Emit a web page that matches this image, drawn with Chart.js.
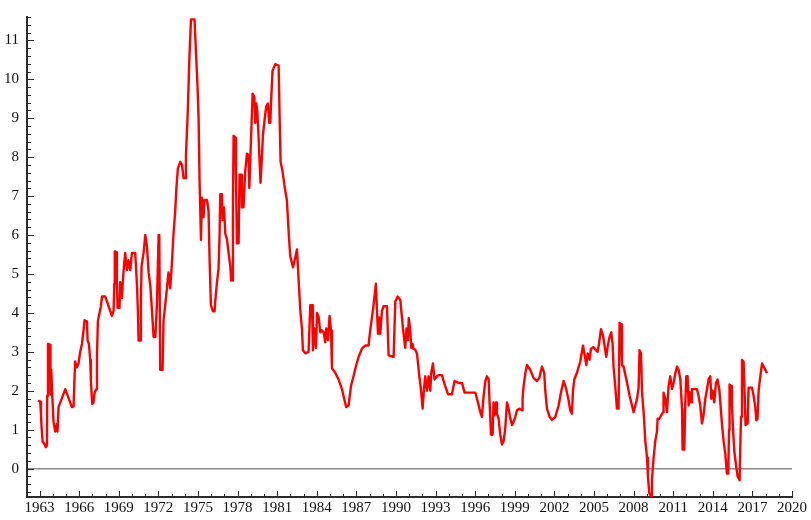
<!DOCTYPE html>
<html>
<head>
<meta charset="utf-8">
<script src="https://cdn.jsdelivr.net/npm/chart.js@4.4.1/dist/chart.umd.min.js"></script>
<style>
html, body { margin: 0; padding: 0; background: #fff; }
#wrap { width: 811px; height: 520px; }
</style>
</head>
<body>
<div id="wrap"><canvas id="chart"></canvas></div>
<script>
// decimal year of each reading
var years = [
    1962.88, 1963.05, 1963.11, 1963.15, 1963.23, 1963.38, 1963.48, 1963.56, 1963.58, 1963.64,
    1963.81, 1963.83, 1963.89, 1963.96, 1964.06, 1964.19, 1964.32, 1964.36, 1964.44, 1964.95,
    1965.45, 1965.58, 1965.63, 1965.70, 1965.83, 1965.95, 1966.08, 1966.21, 1966.33, 1966.41,
    1966.59, 1966.64, 1966.74, 1966.84, 1966.89, 1966.99, 1967.09, 1967.17, 1967.30, 1967.35,
    1967.42, 1967.52, 1967.65, 1967.73, 1967.98, 1968.48, 1968.61, 1968.66, 1968.70, 1968.83,
    1968.86, 1968.91, 1969.06, 1969.11, 1969.24, 1969.32, 1969.42, 1969.49, 1969.62, 1969.74,
    1969.87, 1970.00, 1970.25, 1970.38, 1970.45, 1970.50, 1970.63, 1970.68, 1970.73, 1970.88,
    1971.01, 1971.14, 1971.26, 1971.39, 1971.52, 1971.64, 1971.77, 1971.89, 1972.02, 1972.07,
    1972.14, 1972.32, 1972.39, 1972.52, 1972.65, 1972.77, 1972.90, 1973.03, 1973.15, 1973.28,
    1973.36, 1973.48, 1973.66, 1973.79, 1973.91, 1974.04, 1974.09, 1974.17, 1974.24, 1974.34,
    1974.47, 1974.74, 1974.85, 1974.97, 1975.05, 1975.12, 1975.17, 1975.23, 1975.30, 1975.42,
    1975.50, 1975.68, 1975.80, 1975.88, 1975.98, 1976.14, 1976.26, 1976.31, 1976.44, 1976.56,
    1976.64, 1976.69, 1976.82, 1976.86, 1976.97, 1977.07, 1977.20, 1977.32, 1977.45, 1977.52,
    1977.62, 1977.65, 1977.70, 1977.83, 1977.88, 1977.95, 1978.08, 1978.15, 1978.28, 1978.33,
    1978.45, 1978.58, 1978.71, 1978.83, 1978.89, 1979.01, 1979.14, 1979.27, 1979.34, 1979.42,
    1979.49, 1979.59, 1979.67, 1979.74, 1979.85, 1979.92, 1980.05, 1980.17, 1980.30, 1980.40,
    1980.48, 1980.55, 1980.65, 1980.86, 1981.11, 1981.18, 1981.26, 1981.41, 1981.54, 1981.74,
    1981.86, 1981.99, 1982.20, 1982.37, 1982.50, 1982.62, 1982.75, 1982.88, 1982.95, 1983.13,
    1983.38, 1983.51, 1983.64, 1983.71, 1983.81, 1983.94, 1984.02, 1984.14, 1984.27, 1984.39,
    1984.52, 1984.64, 1984.72, 1984.85, 1984.97, 1985.08, 1985.15, 1985.40, 1985.65, 1985.91,
    1986.08, 1986.23, 1986.41, 1986.59, 1986.79, 1986.99, 1987.17, 1987.42, 1987.67, 1987.92,
    1988.05, 1988.18, 1988.30, 1988.48, 1988.56, 1988.64, 1988.73, 1988.81, 1988.94, 1989.06,
    1989.32, 1989.44, 1989.82, 1989.95, 1990.12, 1990.33, 1990.53, 1990.70, 1990.80, 1990.90,
    1990.97, 1991.08, 1991.16, 1991.26, 1991.33, 1991.46, 1991.59, 1991.67, 1991.77, 1991.89,
    1992.02, 1992.12, 1992.22, 1992.35, 1992.47, 1992.60, 1992.67, 1992.80, 1992.92, 1993.11,
    1993.23, 1993.48, 1993.73, 1993.94, 1994.24, 1994.44, 1994.74, 1995.00, 1995.20, 1996.01,
    1996.21, 1996.39, 1996.51, 1996.64, 1996.77, 1996.89, 1997.02, 1997.09, 1997.20, 1997.32,
    1997.39, 1997.47, 1997.58, 1997.65, 1997.77, 1997.90, 1998.03, 1998.15, 1998.28, 1998.41,
    1998.53, 1998.66, 1998.79, 1998.91, 1999.04, 1999.17, 1999.34, 1999.55, 1999.59, 1999.67,
    1999.80, 1999.92, 2000.17, 2000.42, 2000.68, 2000.86, 2001.06, 2001.23, 2001.31, 2001.44,
    2001.64, 2001.82, 2002.07, 2002.32, 2002.50, 2002.70, 2002.90, 2003.08, 2003.20, 2003.33,
    2003.41, 2003.51, 2003.71, 2003.96, 2004.17, 2004.27, 2004.42, 2004.52, 2004.67, 2004.77,
    2004.97, 2005.15, 2005.27, 2005.38, 2005.53, 2005.68, 2005.78, 2005.93, 2006.03, 2006.18,
    2006.31, 2006.41, 2006.48, 2006.61, 2006.74, 2006.86, 2006.94, 2007.05, 2007.12, 2007.24,
    2007.37, 2007.50, 2007.70, 2007.88, 2008.00, 2008.13, 2008.26, 2008.38, 2008.45, 2008.56,
    2008.64, 2008.76, 2008.89, 2009.02, 2009.09, 2009.19, 2009.32, 2009.39, 2009.52, 2009.64,
    2009.77, 2009.82, 2009.95, 2010.23, 2010.27, 2010.40, 2010.53, 2010.65, 2010.78, 2010.91,
    2011.03, 2011.16, 2011.29, 2011.41, 2011.54, 2011.67, 2011.71, 2011.84, 2011.92, 2011.99,
    2012.09, 2012.17, 2012.24, 2012.35, 2012.42, 2012.80, 2012.92, 2013.05, 2013.18, 2013.30,
    2013.43, 2013.56, 2013.68, 2013.81, 2013.89, 2013.99, 2014.11, 2014.24, 2014.36, 2014.49,
    2014.57, 2014.70, 2014.82, 2014.95, 2015.07, 2015.17, 2015.23, 2015.27, 2015.38, 2015.45,
    2015.53, 2015.63, 2015.78, 2015.88, 2016.03, 2016.08, 2016.14, 2016.21, 2016.33, 2016.41,
    2016.48, 2016.64, 2016.71, 2016.97, 2017.09, 2017.22, 2017.30, 2017.39, 2017.47, 2017.60,
    2017.73, 2017.85, 2017.98, 2018.10
]

// rate (%), same order as years
var rates = [
    1.75, 1.72, 1.41, 1.08, 0.70, 0.62, 0.55, 0.60, 1.87, 3.20,
    3.18, 1.90, 2.54, 1.90, 1.20, 0.95, 1.15, 0.95, 1.58, 2.04,
    1.58, 1.60, 2.16, 2.75, 2.60, 2.70, 3.00, 3.20, 3.54, 3.81,
    3.78, 3.29, 3.20, 2.79, 2.25, 1.66, 1.70, 1.95, 2.04, 2.91,
    3.79, 3.96, 4.17, 4.42, 4.42, 3.92, 4.05, 4.75, 5.58, 5.55,
    4.79, 4.13, 4.13, 4.79, 4.38, 4.88, 5.29, 5.54, 5.10, 5.35,
    5.10, 5.54, 5.54, 4.71, 4.04, 3.29, 3.29, 4.30, 5.21, 5.54,
    6.00, 5.70, 5.04, 4.70, 4.04, 3.38, 3.38, 4.20, 6.00, 6.00,
    2.54, 2.54, 3.79, 4.20, 4.63, 5.04, 4.63, 5.29, 6.04, 6.63,
    7.17, 7.71, 7.88, 7.80, 7.46, 7.46, 8.05, 8.67, 9.30, 10.43,
    11.54, 11.54, 10.68, 9.80, 8.97, 7.42, 6.71, 5.88, 6.96, 6.46,
    6.90, 6.90, 6.63, 5.38, 4.20, 4.04, 4.04, 4.30, 4.79, 5.13,
    6.04, 7.05, 7.05, 6.38, 6.71, 6.04, 5.88, 5.54, 5.20, 4.83,
    4.83, 6.70, 8.55, 8.50, 7.50, 5.79, 5.79, 7.55, 7.55, 6.71,
    6.71, 7.63, 8.09, 8.05, 7.21, 8.38, 9.63, 9.55, 8.88, 9.38,
    9.20, 8.55, 7.88, 7.34, 8.05, 8.55, 8.97, 9.30, 9.38, 8.88,
    8.88, 9.51, 10.22, 10.39, 10.35, 9.13, 7.88, 7.63, 7.30, 6.88,
    6.13, 5.46, 5.17, 5.42, 5.63, 4.88, 4.08, 3.58, 3.04, 2.96,
    3.00, 4.20, 4.20, 3.04, 3.60, 3.10, 4.00, 3.90, 3.50, 3.55,
    3.50, 3.25, 3.60, 3.30, 3.92, 3.55, 2.58, 2.46, 2.29, 2.04,
    1.79, 1.58, 1.62, 2.12, 2.38, 2.66, 2.87, 3.08, 3.16, 3.16,
    3.55, 3.88, 4.20, 4.75, 4.05, 3.46, 3.88, 3.46, 4.05, 4.17,
    4.17, 2.91, 2.87, 4.29, 4.42, 4.33, 3.60, 3.10, 3.60, 3.30,
    3.87, 3.55, 3.10, 3.20, 3.08, 3.05, 2.96, 2.71, 2.37, 2.04,
    1.54, 2.04, 2.37, 2.00, 2.37, 2.00, 2.45, 2.70, 2.29, 2.37,
    2.40, 2.40, 2.12, 1.91, 1.91, 2.25, 2.20, 2.20, 1.95, 1.95,
    1.70, 1.45, 1.33, 1.87, 2.25, 2.37, 2.29, 1.70, 0.87, 0.87,
    1.70, 1.37, 1.70, 1.40, 1.29, 0.87, 0.62, 0.70, 1.04, 1.70,
    1.54, 1.29, 1.12, 1.20, 1.33, 1.50, 1.54, 1.50, 1.79, 2.12,
    2.45, 2.66, 2.54, 2.33, 2.25, 2.33, 2.62, 2.46, 2.00, 1.54,
    1.33, 1.25, 1.33, 1.62, 1.96, 2.25, 2.04, 1.75, 1.50, 1.41,
    2.00, 2.29, 2.46, 2.75, 3.16, 2.96, 2.66, 2.96, 2.80, 3.08,
    3.12, 3.04, 3.00, 3.20, 3.58, 3.42, 3.20, 2.87, 3.12, 3.38,
    3.50, 3.20, 2.62, 2.12, 1.54, 1.54, 3.75, 3.70, 2.66, 2.62,
    2.42, 2.21, 1.87, 1.62, 1.45, 1.62, 1.79, 2.08, 3.04, 2.96,
    1.96, 1.45, 0.70, 0.28, -0.22, -0.63, -0.70, -0.30, 0.30, 0.70,
    0.95, 1.28, 1.28, 1.45, 1.95, 1.79, 1.45, 2.12, 2.37, 2.04,
    2.20, 2.45, 2.62, 2.54, 2.29, 1.54, 0.49, 0.49, 1.70, 2.37,
    2.37, 1.62, 1.96, 1.70, 2.04, 2.04, 1.87, 1.62, 1.16, 1.37,
    1.79, 2.04, 2.29, 2.37, 1.79, 2.00, 1.70, 2.20, 2.29, 2.04,
    1.70, 1.12, 0.70, 0.37, -0.13, -0.13, 1.00, 2.16, 2.12, 1.62,
    1.04, 0.45, 0.03, -0.20, -0.30, 0.54, 1.33, 2.79, 2.75, 1.96,
    1.12, 1.16, 2.08, 2.08, 1.87, 1.58, 1.24, 1.28, 2.00, 2.37,
    2.70, 2.62, 2.54, 2.45
]

var xTicks = [1963, 1966, 1969, 1972, 1975, 1978, 1981, 1984, 1987, 1990,
              1993, 1996, 1999, 2002, 2005, 2008, 2011, 2014, 2017, 2020]
var yTicks = [0, 1, 2, 3, 4, 5, 6, 7, 8, 9, 10, 11]

var points = years.map(function (yr, i) {
    return { x: yr, y: rates[i] }
})

// small tick marks pointing into the plot, like the original frame
const innerTicks = {
    id: 'innerTicks',
    afterDraw(chart) {
        var ctx = chart.ctx
        var xs = chart.scales.x
        var ys = chart.scales.y
        var area = chart.chartArea
        ctx.save()
        ctx.strokeStyle = '#2b2b2b'
        ctx.lineWidth = 1
        ctx.beginPath()
        for (var yr = 1962; yr <= 2020; yr++) {
            var px = Math.round(xs.getPixelForValue(yr)) + 0.5
            if (px < area.left || px > area.right + 1) continue
            var len = (yr - 1963) % 3 === 0 ? 6 : 3
            ctx.moveTo(px, area.bottom)
            ctx.lineTo(px, area.bottom - len)
        }
        for (var i = -3; i <= 58; i++) {
            var py = Math.round(ys.getPixelForValue(i / 5)) + 0.5
            if (py < area.top || py > area.bottom) continue
            var len2 = i % 5 === 0 ? 7 : 4
            ctx.moveTo(area.left, py)
            ctx.lineTo(area.left + len2, py)
        }
        ctx.stroke()
        ctx.restore()
    }
}

var tickFont = { family: "'Liberation Serif', 'DejaVu Serif', serif", size: 15 }

new Chart(document.getElementById('chart'), {
    type: 'line',
    data: {
        datasets: [{
            data: points,
            borderColor: '#ff0000',
            borderWidth: 2.4,
            borderJoinStyle: 'round',
            pointRadius: 0,
            tension: 0,
            fill: false
        }]
    },
    options: {
        responsive: true,
        maintainAspectRatio: false,
        animation: false,
        layout: { padding: { top: 5, right: 19, left: 0, bottom: 0 } },
        plugins: {
            legend: { display: false },
            tooltip: { enabled: false }
        },
        scales: {
            x: {
                type: 'linear',
                min: 1962.05,
                max: 2020,
                afterBuildTicks: function (scale) {
                    scale.ticks = xTicks.map(function (v) { return { value: v } })
                },
                afterFit: function (scale) { scale.height = 23 },
                grid: { display: false, drawTicks: false },
                border: { display: true, color: '#2b2b2b', width: 2 },
                ticks: {
                    autoSkip: false,
                    maxRotation: 0,
                    padding: 2,
                    color: '#111',
                    font: tickFont,
                    callback: function (v) { return String(v) }
                }
            },
            y: {
                min: -0.73,
                max: 11.6,
                afterBuildTicks: function (scale) {
                    scale.ticks = yTicks.map(function (v) { return { value: v } })
                },
                afterFit: function (scale) { scale.width = 27 },
                grid: {
                    drawTicks: false,
                    lineWidth: 1.5,
                    color: function (c) { return c.tick && c.tick.value === 0 ? '#8a8a8a' : 'rgba(0,0,0,0)' }
                },
                border: { display: true, color: '#2b2b2b', width: 2 },
                ticks: {
                    padding: 8,
                    color: '#111',
                    font: tickFont,
                    callback: function (v) { return String(v) }
                }
            }
        }
    },
    plugins: [innerTicks]
})
</script>
</body>
</html>
